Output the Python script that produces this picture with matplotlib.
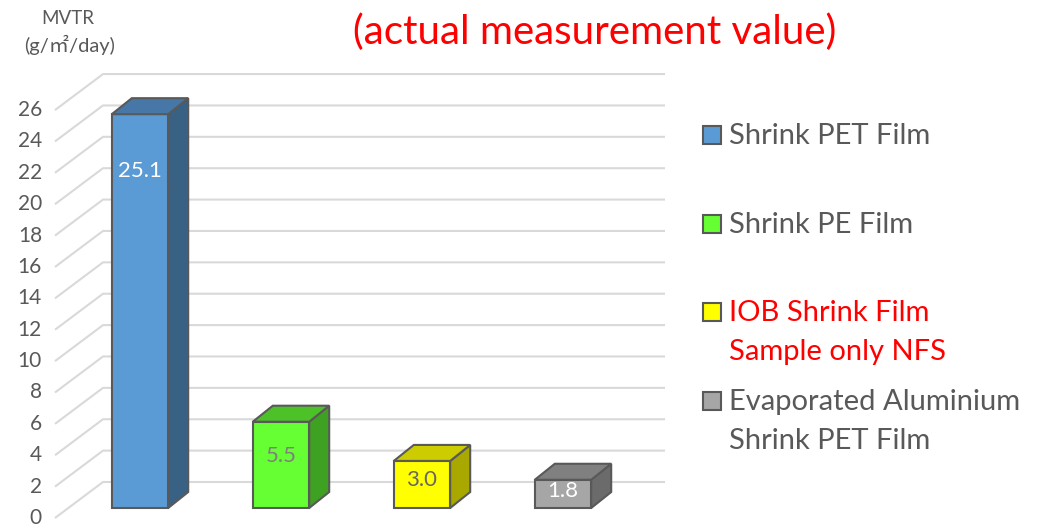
import matplotlib.pyplot as plt
from matplotlib.patches import Polygon, Rectangle

plt.rcParams['font.family'] = ['Lato', 'DejaVu Sans']

# data
categories = ["Shrink PET Film", "Shrink PE Film",
              "IOB Shrink Film\nSample only NFS",
              "Evaporated Aluminium\nShrink PET Film"]
values = [25.1, 5.5, 3.0, 1.8]
label_texts = ["25.1", "5.5", "3.0", "1.8"]
yticks = list(range(0, 27, 2))

front_colors = ["#5B9BD5", "#66FF33", "#FFFF00", "#A6A6A6"]
side_colors = ["#386184", "#3FA122", "#A8A800", "#6B6B6B"]
top_colors = ["#4677A6", "#4CC228", "#CCCC00", "#808080"]
label_colors = ["white", "#7F7F7F", "#666666", "white"]
legend_text_colors = ["#595959", "#595959", "red", "#595959"]

W, H = 1037, 531
fig = plt.figure(figsize=(W / 100, H / 100), dpi=100)
ax = fig.add_axes([0, 0, 1, 1])
ax.axis("off")

# 1 x-unit = 141 px, category 0 centred at 140 px; 1 value unit = 15.69 px, 0 at 518 px
px_x, x0_px = 141.0, 140.0
px_v, v0_px = 15.69, 518.0
ax.set_xlim((0 - x0_px) / px_x, (W - x0_px) / px_x)
ax.set_ylim((v0_px - H) / px_v, v0_px / px_v)

# floor / back wall gridlines (3D look)
gx0 = (55 - x0_px) / px_x
gdx = 48 / px_x
gdy = 36 / px_v
gx1 = (665 - x0_px) / px_x
for t in yticks:
    ax.plot([gx0, gx0 + gdx, gx1], [t, t + gdy, t + gdy],
            color="#D9D9D9", lw=1.5, zorder=1, solid_capstyle="butt")
    ax.text((42 - x0_px) / px_x, t, str(t), ha="right", va="center",
            fontsize=15, color="#595959")

# bars
base = 10 / px_v
half = 0.2
bdx = 20 / px_x
bdy = 16 / px_v
edge = "#595959"
for i, v in enumerate(values):
    xl, xr = i - half, i + half
    top = base + v
    ax.add_patch(Rectangle((xl, base), xr - xl, v, facecolor=front_colors[i],
                           edgecolor=edge, lw=1.5, zorder=3))
    ax.add_patch(Polygon([(xr, base), (xr + bdx, base + bdy), (xr + bdx, top + bdy), (xr, top)],
                         closed=True, facecolor=side_colors[i], edgecolor=edge, lw=1.5, zorder=3))
    ax.add_patch(Polygon([(xl, top), (xl + bdx, top + bdy), (xr + bdx, top + bdy), (xr, top)],
                         closed=True, facecolor=top_colors[i], edgecolor=edge, lw=1.5, zorder=3))
    ly = top - min(v * 0.4, 3.6)
    ax.text(i, ly, label_texts[i], ha="center", va="center", fontsize=16,
            color=label_colors[i], zorder=4)

# axis title and chart title
fig.text(68 / W, 1 - 18 / H, "MVTR", ha="center", va="center", fontsize=13.5, color="#595959")
fig.text(70 / W, 1 - 45 / H, "(g/㎡/day)", ha="center", va="center", fontsize=14.5,
         color="#595959", family=["Lato", "Noto Sans CJK JP", "DejaVu Sans"])
fig.text(595 / W, 1 - 32 / H, "(actual measurement value)", ha="center", va="center",
         fontsize=29, color="red")

# legend drawn by hand
leg_y = [135, 224, 312, 401]
for i, name in enumerate(categories):
    y = leg_y[i]
    fig.add_artist(Rectangle((703 / W, 1 - (y + 9) / H), 18 / W, 18 / H,
                             transform=fig.transFigure, facecolor=front_colors[i],
                             edgecolor=edge, lw=1.5))
    fig.text(729 / W, 1 - (y - 12) / H, name, ha="left", va="top", fontsize=21,
             color=legend_text_colors[i], linespacing=1.6)

fig.savefig("out.png", dpi=100)
